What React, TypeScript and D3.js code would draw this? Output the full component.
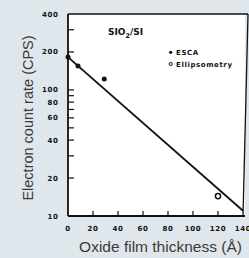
import React from "react";
import * as d3 from "d3";

const escaX = [0, 8, 29];
const escaY = [182, 155, 122];
const ellipX = [120];
const ellipY = [14.4];
const fitX = [0, 140];
const fitY = [182, 11];
const xTicks = [0, 20, 40, 60, 80, 100, 120, 140];
const yMajor = [400, 200, 100, 80, 60, 40, 20, 10];
const yMinor = [300, 90, 70, 50, 30];
const legendLabels = ["ESCA", "Ellipsometry"];

const W = 249;
const H = 258;

export default function App() {
  const x = d3.scaleLinear().domain([0, 140]).range([68, 243]);
  const y = d3.scaleLog().domain([10, 400]).range([216, 14]);
  const line = d3
    .line<number>()
    .x((_, i) => x(fitX[i]))
    .y((d) => y(d));
  const left = x(0);
  const right = 245;
  const top = y(400);
  const bottom = y(10);
  const tickFont = "'DejaVu Sans', sans-serif";
  return (
    <svg
      width={W}
      height={H}
      style={{ position: "absolute", left: 0, top: 0 }}
    >
      <rect x={0} y={0} width={W} height={H} fill="#dfe6ec" />
      <rect x={left} y={top} width={right - left} height={bottom - top} fill="#ffffff" />
      {/* borders */}
      <line x1={left} y1={top} x2={right + 3} y2={top} stroke="#111" strokeWidth={1.3} />
      <line x1={right + 3} y1={top} x2={right - 2} y2={bottom} stroke="#111" strokeWidth={1.3} />
      <line x1={left} y1={top} x2={left} y2={bottom} stroke="#111" strokeWidth={1.8} />
      <line x1={left} y1={bottom} x2={right} y2={bottom} stroke="#111" strokeWidth={1.8} />
      {/* y ticks */}
      {yMajor.concat(yMinor).filter((v) => v !== 400 && v !== 10).map((v) => (
        <line key={"yt" + v} x1={left} x2={left + 6} y1={y(v)} y2={y(v)} stroke="#111" strokeWidth={1.2} />
      ))}
      {yMajor.map((v) => (
        <text
          key={"yl" + v}
          x={58.5}
          y={y(v)}
          dy="0.36em"
          textAnchor="end"
          fontFamily={tickFont}
          fontWeight="bold"
          fontSize={7}
          letterSpacing={0.6}
          fill="#111"
        >
          {v}
        </text>
      ))}
      {/* x ticks */}
      {xTicks.filter((v) => v !== 0 && v !== 140).map((v) => (
        <line key={"xt" + v} x1={x(v)} x2={x(v)} y1={bottom} y2={bottom - 5} stroke="#111" strokeWidth={1.2} />
      ))}
      {xTicks.map((v) => (
        <text
          key={"xl" + v}
          x={x(v)}
          y={228}
          dy="0.36em"
          textAnchor="middle"
          fontFamily={tickFont}
          fontWeight="bold"
          fontSize={7}
          letterSpacing={0.6}
          fill="#111"
        >
          {v}
        </text>
      ))}
      {/* fit line */}
      <path d={line(fitY) || ""} fill="none" stroke="#111" strokeWidth={1.8} />
      {/* ESCA points */}
      {escaX.map((v, i) => (
        <circle key={"e" + i} cx={x(v)} cy={y(escaY[i])} r={2.5} fill="#111" />
      ))}
      {/* Ellipsometry points */}
      {ellipX.map((v, i) => (
        <circle key={"o" + i} cx={x(v)} cy={y(ellipY[i])} r={2.6} fill="#fff" stroke="#111" strokeWidth={1.5} />
      ))}
      {/* title */}
      <text x={108} y={35} fontFamily={tickFont} fontWeight="bold" fontSize={9} fill="#111">
        SIO
        <tspan fontSize={6.5} dy={2.5}>2</tspan>
        <tspan dy={-2.5}>/SI</tspan>
      </text>
      {/* legend */}
      <circle cx={170.7} cy={52.3} r={1.6} fill="#111" />
      <circle cx={170.7} cy={64} r={1.6} fill="#fff" stroke="#111" strokeWidth={1} />
      {legendLabels.map((t, i) => (
        <text
          key={t}
          x={176}
          y={52.3 + i * 11.7}
          dy="0.36em"
          fontFamily={tickFont}
          fontWeight="bold"
          fontSize={7}
          letterSpacing={0.6}
          fill="#111"
        >
          {t}
        </text>
      ))}
      {/* axis titles */}
      <text
        transform={`translate(33,118) rotate(-90)`}
        textAnchor="middle"
        fontFamily="'Liberation Sans', Arial, sans-serif"
        fontSize={14.5}
        fill="#3a3a3a"
      >
        Electron count rate (CPS)
      </text>
      <text
        x={160.5}
        y={252}
        textAnchor="middle"
        fontFamily="'Liberation Sans', Arial, sans-serif"
        fontSize={15.5}
        fill="#3a3a3a"
      >
        Oxide film thickness (Å)
      </text>
    </svg>
  );
}
